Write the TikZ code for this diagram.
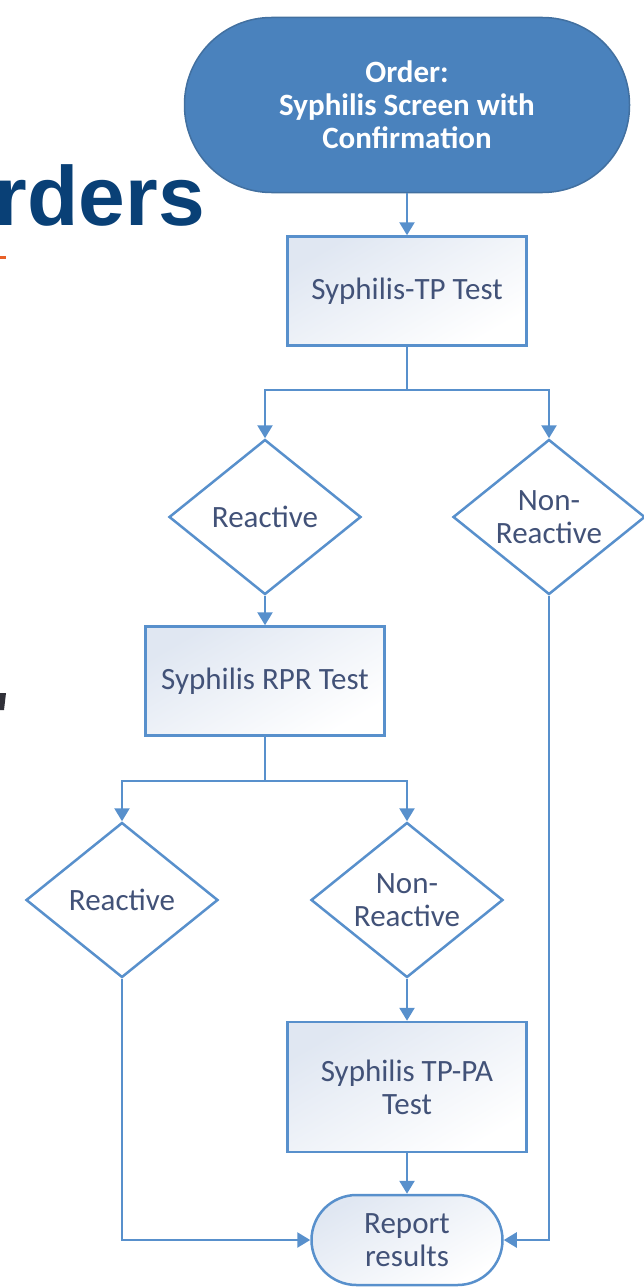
\documentclass[tikz,border=0pt]{standalone}
\usepackage{fontspec}
\setmainfont{Carlito}
\newfontfamily\headfont{Liberation Sans}
\usetikzlibrary{shapes.geometric,arrows.meta}
\definecolor{flowline}{RGB}{88,144,204}
\definecolor{flowfill}{RGB}{74,130,189}
\definecolor{flowedge}{RGB}{66,112,160}
\definecolor{flowtext}{RGB}{66,82,120}
\definecolor{boxtop}{RGB}{224,231,242}
\definecolor{headblue}{RGB}{9,64,118}
\definecolor{slideorange}{RGB}{232,96,40}
\definecolor{slidedark}{RGB}{48,48,56}
\begin{document}
\begin{tikzpicture}[x=1pt,y=-1pt,line width=2.5pt,
    txt/.style={font=\fontsize{31}{33}\selectfont,text=flowtext,align=center,inner sep=0pt},
    testbox/.style={txt,draw=flowline,rectangle,minimum width=239pt,minimum height=109pt,top color=boxtop,bottom color=white,shading angle=30},
    decision/.style={txt,draw=flowline,diamond,aspect=1.24,minimum width=192pt,minimum height=155pt,fill=white},
    startend/.style={txt,draw=flowline,rectangle,rounded corners=45pt,minimum width=191pt,minimum height=90pt,top color=boxtop,bottom color=white,shading angle=30},
    flow/.style={draw=flowline,-{Triangle[width=15pt,length=13pt]}}]
  \useasboundingbox (0,0) rectangle (644,1287);
  % pieces of the slide behind
  \node[anchor=base east,inner sep=0pt,font=\headfont\bfseries\fontsize{84}{84}\selectfont,text=headblue] (head) at (206,225) {rders};
  \fill[slideorange] (0,255.5) rectangle (6,258.5);
  \fill[slidedark] (0,693) -- (6,693) -- (4,710) -- (0,710) -- cycle;
  % flow chart
  \node[txt,rectangle,rounded corners=87pt,minimum width=445pt,minimum height=175pt,fill=flowfill,draw=flowedge,line width=1.5pt,text=white,font=\bfseries\fontsize{31}{33}\selectfont] (order) at (407,105) {Order:\\Syphilis Screen with\\Confirmation};
  \node[testbox] (tp) at (407,291) {Syphilis-TP Test};
  \node[decision] (react) at (265,517) {Reactive};
  \node[decision] (nonreact) at (549,517) {Non-\\Reactive};
  \node[testbox] (rpr) at (265,681) {Syphilis RPR Test};
  \node[decision] (rprreact) at (122,900) {Reactive};
  \node[decision] (rprnonreact) at (407,900) {Non-\\Reactive};
  \node[testbox,minimum height=130pt] (tppa) at (407,1087) {Syphilis TP-PA\\Test};
  \node[startend] (report) at (407,1240) {Report\\results};
  \draw[flow] (order) -- (tp);
  \draw[flow] (tp.south) -- ++(0,43) -| (react.north);
  \draw[flow] (tp.south) -- ++(0,43) -| (nonreact.north);
  \draw[flow] (react) -- (rpr);
  \draw[flow] (rpr.south) -- ++(0,44) -| (rprreact.north);
  \draw[flow] (rpr.south) -- ++(0,44) -| (rprnonreact.north);
  \draw[flow] (rprnonreact) -- (tppa);
  \draw[flow] (tppa) -- (report);
  \draw[flow] (rprreact.south) |- (report.west);
  \draw[flow] (nonreact.south) |- (report.east);
\end{tikzpicture}
\end{document}
